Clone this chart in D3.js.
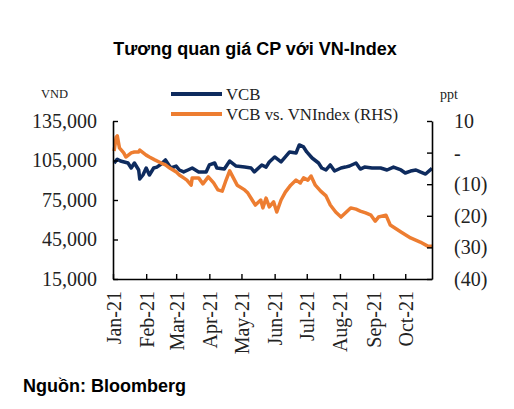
<!DOCTYPE html>
<html>
<head>
<meta charset="utf-8">
<script src="https://cdn.jsdelivr.net/npm/d3@7"></script>
<style>
  body { margin: 0; background: #fff; }
  svg text { fill: #222; }
</style>
</head>
<body>
<div id="chart"></div>
<script>
// VCB price (VND)
var vcbDates = ['2021-01-02','2021-01-05','2021-01-08','2021-01-15','2021-01-18','2021-01-21','2021-01-25','2021-01-26','2021-01-29',
  '2021-02-01','2021-02-04','2021-02-08','2021-02-11','2021-02-15','2021-02-19','2021-02-24','2021-03-01','2021-03-04','2021-03-08',
  '2021-03-12','2021-03-16','2021-03-22','2021-03-29','2021-04-01','2021-04-06','2021-04-08','2021-04-15','2021-04-20','2021-04-26',
  '2021-05-04','2021-05-10','2021-05-13','2021-05-20','2021-05-24','2021-05-27','2021-06-01','2021-06-07','2021-06-11','2021-06-15',
  '2021-06-21','2021-06-24','2021-06-28','2021-07-01','2021-07-06','2021-07-12','2021-07-15','2021-07-19','2021-07-23','2021-07-27',
  '2021-08-02','2021-08-06','2021-08-10','2021-08-16','2021-08-20','2021-08-24','2021-08-31','2021-09-08','2021-09-14','2021-09-20',
  '2021-09-27','2021-10-01','2021-10-06','2021-10-11','2021-10-15','2021-10-20','2021-10-26'];
var vcbValues = [103000,106000,104600,103100,99300,103100,97800,91000,94000,
  99300,94000,99300,100000,102300,105400,99300,100800,97800,96300,
  97800,99300,96300,96300,101600,103100,99300,98500,104600,100800,
  100000,99300,96300,101600,100000,103900,107700,103900,107700,111500,
  110700,116800,115300,111500,106900,103100,99300,97800,101600,97000,
  99300,100000,100800,103100,98500,100000,99300,99300,97800,100000,
  97800,95500,97000,97800,96300,94700,99000];

// VCB vs. VNIndex relative performance (ppt, right axis)
var relDates = ['2021-01-02','2021-01-04','2021-01-05','2021-01-07','2021-01-11','2021-01-13','2021-01-18','2021-01-21','2021-01-25','2021-01-26',
  '2021-02-01','2021-02-04','2021-02-09','2021-02-15','2021-02-19','2021-02-23','2021-03-01','2021-03-04','2021-03-08','2021-03-11',
  '2021-03-15','2021-03-16','2021-03-22','2021-03-26','2021-03-31','2021-04-05','2021-04-09','2021-04-13','2021-04-16','2021-04-20',
  '2021-04-27','2021-05-04','2021-05-07','2021-05-11','2021-05-14','2021-05-19','2021-05-21','2021-05-24','2021-05-27','2021-05-31',
  '2021-06-03','2021-06-07','2021-06-11','2021-06-16','2021-06-21','2021-06-25','2021-06-28','2021-07-02','2021-07-05','2021-07-09',
  '2021-07-14','2021-07-19','2021-07-23','2021-07-28','2021-08-02','2021-08-06','2021-08-11','2021-08-16','2021-08-20','2021-08-25',
  '2021-08-30','2021-09-03','2021-09-06','2021-09-13','2021-09-17','2021-09-27','2021-10-06','2021-10-15','2021-10-22','2021-10-26'];
var relValues = [0.5,4.9,5.3,1.5,-0.1,-1.4,-0.1,0.2,0.2,0.8,
  -0.8,-1.4,-2.3,-3.3,-3.9,-4.9,-6.1,-7.1,-8.0,-8.7,
  -10.3,-8.0,-8.0,-9.9,-7.7,-9.6,-11.8,-12.2,-9.3,-5.8,
  -10.3,-11.8,-12.8,-15.0,-16.6,-15.0,-17.5,-14.4,-17.2,-15.6,
  -18.8,-15.0,-12.5,-10.3,-8.7,-9.6,-8.0,-8.7,-7.4,-10.3,
  -12.2,-13.7,-16.6,-18.8,-20.4,-19.1,-17.5,-17.9,-18.5,-19.1,
  -19.8,-21.7,-20.4,-19.8,-22.9,-25.1,-27.0,-28.3,-29.6,-29.6];

var leftTicks = [15000, 45000, 75000, 105000, 135000];
var rightTicks = [-40, -30, -20, -10, 0, 10];
var monthTicks = ['2021-01-01','2021-02-01','2021-03-01','2021-04-01','2021-05-01','2021-06-01',
  '2021-07-01','2021-08-01','2021-09-01','2021-10-01'];

var seriesNames = ['VCB', 'VCB vs. VNIndex (RHS)'];
var seriesColors = ['#0e2b5e', '#ed7d31'];

var svgWidth = 514;
var svgHeight = 409;
var margin = { top: 121, right: 82, bottom: 130, left: 113 };
var width = svgWidth - margin.left - margin.right;
var height = svgHeight - margin.top - margin.bottom;

var parse = d3.timeParse('%Y-%m-%d');
var serif = '"Liberation Serif", "Times New Roman", serif';
var sans = '"Liberation Sans", Arial, sans-serif';

var svg = d3.select('#chart').append('svg')
  .attr('width', svgWidth)
  .attr('height', svgHeight);

// title
svg.append('text')
  .attr('x', 255)
  .attr('y', 55)
  .attr('text-anchor', 'middle')
  .style('font-family', sans)
  .style('font-weight', 'bold')
  .style('font-size', '18px')
  .style('fill', '#000')
  .text('Tương quan giá CP với VN-Index');

var chartGroup = svg.append('g')
  .attr('transform', `translate(${margin.left}, ${margin.top})`);

var x = d3.scaleTime()
  .domain([parse('2021-01-01'), parse('2021-10-26')])
  .range([0, width]);
var yLeft = d3.scaleLinear().domain([15000, 135000]).range([height, 0]);
var yRight = d3.scaleLinear().domain([-40, 10]).range([height, 0]);

// lines
var vcbData = vcbDates.map((d, i) => ({ date: parse(d), value: vcbValues[i] }));
var relData = relDates.map((d, i) => ({ date: parse(d), value: relValues[i] }));

chartGroup.append('path')
  .datum(vcbData)
  .attr('fill', 'none')
  .attr('stroke', seriesColors[0])
  .attr('stroke-width', 3.5)
  .attr('stroke-linejoin', 'round')
  .attr('d', d3.line().x(d => x(d.date)).y(d => yLeft(d.value)));

chartGroup.append('path')
  .datum(relData)
  .attr('fill', 'none')
  .attr('stroke', seriesColors[1])
  .attr('stroke-width', 3.5)
  .attr('stroke-linejoin', 'round')
  .attr('d', d3.line().x(d => x(d.date)).y(d => yRight(d.value)));

// axes
var leftAxis = d3.axisLeft(yLeft)
  .tickValues(leftTicks)
  .tickFormat(d3.format(','))
  .tickSizeInner(-5)
  .tickSizeOuter(0)
  .tickPadding(16);

var rightAxis = d3.axisRight(yRight)
  .tickValues(rightTicks)
  .tickFormat(d => d === 0 ? '-' : (d < 0 ? `(${-d})` : `${d}`))
  .tickSizeInner(-5)
  .tickSizeOuter(0)
  .tickPadding(22);

var bottomAxis = d3.axisBottom(x)
  .tickValues(monthTicks.map(parse))
  .tickFormat(d3.timeFormat('%b-%y'))
  .tickSizeInner(-5)
  .tickSizeOuter(0)
  .tickPadding(12);

function styleAxis(g) {
  g.select('.domain').attr('stroke', '#000').attr('stroke-width', 1.6);
  g.selectAll('.tick line').attr('stroke', '#000').attr('stroke-width', 1.4);
  g.selectAll('.tick text')
    .style('font-family', serif)
    .style('font-size', '20px')
    .style('fill', '#222');
}

chartGroup.append('g').call(leftAxis).call(styleAxis);

chartGroup.append('g')
  .attr('transform', `translate(${width}, 0)`)
  .call(rightAxis)
  .call(styleAxis);

var xAxis = chartGroup.append('g')
  .attr('transform', `translate(0, ${height})`)
  .call(bottomAxis)
  .call(styleAxis);

xAxis.selectAll('.tick text')
  .attr('text-anchor', 'end')
  .attr('transform', 'rotate(-90)')
  .attr('x', -12)
  .attr('y', 0)
  .attr('dy', '0.35em');

// axis unit labels
svg.append('text')
  .attr('x', 41)
  .attr('y', 98)
  .style('font-family', serif)
  .style('font-size', '12.5px')
  .text('VND');

svg.append('text')
  .attr('x', 440)
  .attr('y', 99)
  .style('font-family', serif)
  .style('font-size', '14px')
  .text('ppt');

// legend
var legend = svg.append('g');
seriesNames.forEach(function(name, i) {
  var ly = 94 + i * 20;
  legend.append('line')
    .attr('x1', 171).attr('x2', 222)
    .attr('y1', ly).attr('y2', ly)
    .attr('stroke', seriesColors[i])
    .attr('stroke-width', 4);
  legend.append('text')
    .attr('x', 226)
    .attr('y', ly + 6)
    .style('font-family', serif)
    .style('font-size', '16.8px')
    .text(name);
});

// source
svg.append('text')
  .attr('x', 23)
  .attr('y', 392)
  .style('font-family', sans)
  .style('font-weight', 'bold')
  .style('font-size', '18px')
  .style('fill', '#000')
  .text('Nguồn: Bloomberg');
</script>
</body>
</html>
